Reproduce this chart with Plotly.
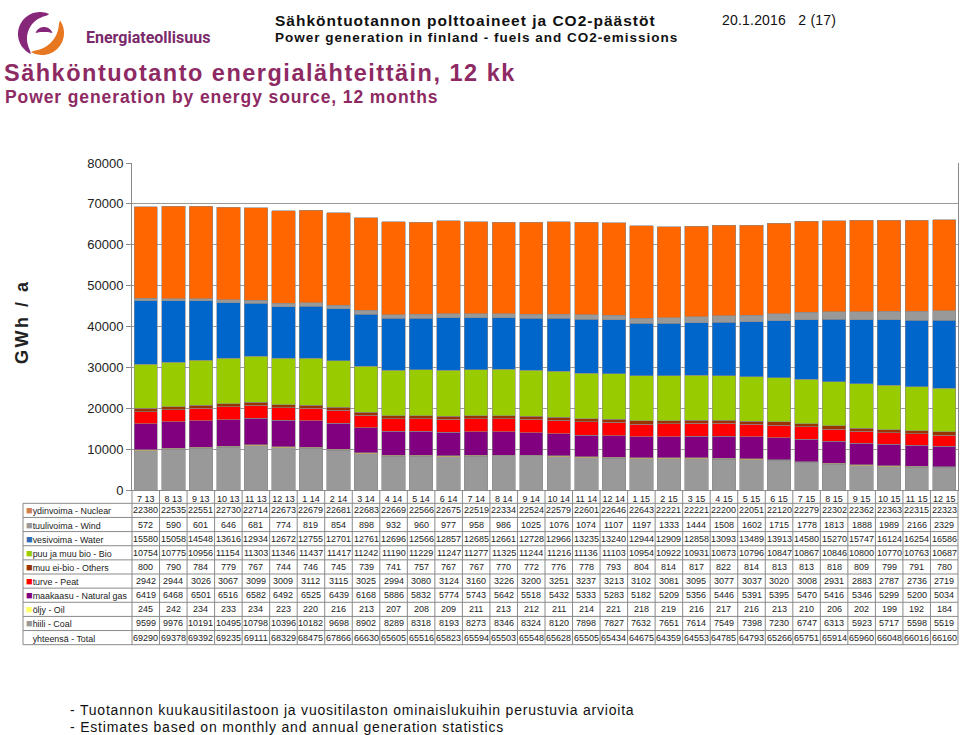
import math
import plotly.graph_objects as go

# ---------------- data ----------------
months = ["7 13", "8 13", "9 13", "10 13", "11 13", "12 13", "1 14", "2 14", "3 14", "4 14",
          "5 14", "6 14", "7 14", "8 14", "9 14", "10 14", "11 14", "12 14", "1 15", "2 15",
          "3 15", "4 15", "5 15", "6 15", "7 15", "8 15", "9 15", "10 15", "11 15", "12 15"]

nuclear = [22380, 22535, 22551, 22730, 22714, 22673, 22679, 22681, 22683, 22669, 22566, 22675, 22519, 22334, 22524,
           22579, 22601, 22646, 22643, 22221, 22221, 22200, 22051, 22120, 22279, 22302, 22362, 22363, 22315, 22323]
wind = [572, 590, 601, 646, 681, 774, 819, 854, 898, 932, 960, 977, 958, 986, 1025,
        1076, 1074, 1107, 1197, 1333, 1444, 1508, 1602, 1715, 1778, 1813, 1888, 1989, 2166, 2329]
water = [15580, 15058, 14548, 13616, 12934, 12672, 12755, 12701, 12761, 12696, 12566, 12857, 12685, 12661, 12728,
         12966, 13235, 13240, 12944, 12909, 12858, 13093, 13489, 13913, 14580, 15270, 15747, 16124, 16254, 16586]
bio = [10754, 10775, 10956, 11154, 11303, 11346, 11437, 11417, 11242, 11190, 11229, 11247, 11277, 11325, 11244,
       11216, 11136, 11103, 10954, 10922, 10931, 10873, 10796, 10847, 10867, 10846, 10800, 10770, 10763, 10687]
others = [800, 790, 784, 779, 767, 744, 746, 745, 739, 741, 757, 767, 767, 770, 772,
          776, 778, 793, 804, 814, 817, 822, 814, 813, 813, 818, 809, 799, 791, 780]
peat = [2942, 2944, 3026, 3067, 3099, 3009, 3112, 3115, 3025, 2994, 3080, 3124, 3160, 3226, 3200,
        3251, 3237, 3213, 3102, 3081, 3095, 3077, 3037, 3020, 3008, 2931, 2883, 2787, 2736, 2719]
gas = [6419, 6468, 6501, 6516, 6582, 6492, 6525, 6439, 6168, 5886, 5832, 5774, 5743, 5642, 5518,
       5432, 5333, 5283, 5182, 5209, 5356, 5446, 5391, 5395, 5470, 5416, 5346, 5299, 5200, 5034]
oil = [245, 242, 234, 233, 234, 223, 220, 216, 213, 207, 208, 209, 211, 213, 212,
       211, 214, 221, 218, 219, 216, 217, 216, 213, 210, 206, 202, 199, 192, 184]
coal = [9599, 9976, 10191, 10495, 10798, 10396, 10182, 9698, 8902, 8289, 8318, 8193, 8273, 8346, 8324,
        8120, 7898, 7827, 7632, 7651, 7614, 7549, 7398, 7230, 6747, 6313, 5923, 5717, 5598, 5519]
total = [69290, 69378, 69392, 69235, 69111, 68329, 68475, 67866, 66630, 65605, 65516, 65823, 65594, 65503, 65548,
         65628, 65505, 65434, 64675, 64359, 64553, 64785, 64793, 65266, 65751, 65914, 65960, 66048, 66016, 66160]

row_labels = ["ydinvoima - Nuclear", "tuulivoima - Wind", "vesivoima - Water", "puu ja muu bio - Bio",
              "muu ei-bio - Others", "turve - Peat", "maakaasu - Natural gas", "öljy - Oil", "hiili - Coal",
              "yhteensä - Total"]
y_ticks = [0, 10000, 20000, 30000, 40000, 50000, 60000, 70000, 80000]

# ---------------- style ----------------
colors = {"Nuclear": "#FF6600", "Wind": "#999999", "Water": "#0066CC", "Bio": "#99CC00",
          "Others": "#993300", "Peat": "#FF0000", "Gas": "#800080", "Oil": "#FFCC33", "Coal": "#999999"}
key_colors = ["#D08050", "#999999", "#2D6CB5", "#99CC00", "#993300", "#FF0000", "#800080", "#FFFF66", "#999999", None]
FONT = "Liberation Sans"
PURPLE = "#8E2A63"
W, H = 960, 735
L, R, T, B = 132, 958, 163, 490


def px(x):
    return (x - L) / (R - L)


def py(y):
    return (B - y) / (B - T)


fig = go.Figure()
stack = [("Coal", coal), ("Oil", oil), ("Gas", gas), ("Peat", peat), ("Others", others),
         ("Bio", bio), ("Water", water), ("Wind", wind), ("Nuclear", nuclear)]
for name, vals in stack:
    fig.add_trace(go.Bar(x=months, y=vals, name=name, marker_color=colors[name],
                         marker_line=dict(color="#8a8a8a", width=0.6), showlegend=False))

fig.update_layout(
    width=W, height=H, barmode="stack", bargap=0.15,
    margin=dict(l=L, r=W - R, t=T, b=H - B, pad=0),
    paper_bgcolor="white", plot_bgcolor="white",
    font=dict(family=FONT, color="#222"),
    xaxis=dict(type="category", showline=True, linecolor="#8a8a8a", linewidth=1, ticks="",
               tickfont=dict(size=9, color="#222"), showgrid=False, range=[-0.5, 29.5]),
    yaxis=dict(range=[0, 80000], tickvals=y_ticks, ticktext=[str(v) for v in y_ticks],
               showgrid=True, gridcolor="#9a9a9a", gridwidth=1, showline=True, linecolor="#8a8a8a",
               mirror=True, ticks="outside", ticklen=5, tickcolor="#8a8a8a",
               tickfont=dict(size=13, color="#222"), zeroline=False),
)

shapes = []
annotations = []
n = len(months)
row_h = 14.14
top_tab = 503.3
bottom_tab = top_tab + row_h * 10
line_style = dict(color="#8a8a8a", width=1)
# horizontal table lines
for k in range(11):
    yy = top_tab + row_h * k
    shapes.append(dict(type="line", xref="paper", yref="paper", x0=px(23), x1=1, y0=py(yy), y1=py(yy),
                       line=line_style))
# vertical line: label column left edge
shapes.append(dict(type="line", xref="paper", yref="paper", x0=px(23), x1=px(23),
                   y0=py(top_tab), y1=py(bottom_tab), line=line_style))
# vertical lines: category boundaries
for i in range(n + 1):
    shapes.append(dict(type="line", xref="paper", yref="paper", x0=i / n, x1=i / n,
                       y0=0, y1=py(bottom_tab), line=line_style))

rows = [nuclear, wind, water, bio, others, peat, gas, oil, coal, total]
for r, (lab, vals) in enumerate(zip(row_labels, rows)):
    yc = py(top_tab + row_h * (r + 0.5))
    kc = key_colors[r] if key_colors[r] else "white"
    txt = f'<span style="color:{kc};font-size:11px">■</span>{lab}'
    annotations.append(dict(xref="paper", yref="paper", x=px(24), y=yc, text=txt, showarrow=False,
                            xanchor="left", yanchor="middle",
                            font=dict(size=8.9, family=FONT, color="#222")))
    for m, v in zip(months, vals):
        annotations.append(dict(xref="x", yref="paper", x=m, y=yc, text=str(v), showarrow=False,
                                xanchor="center", yanchor="middle",
                                font=dict(size=9, family=FONT, color="#222")))

# y-axis title
annotations.append(dict(xref="paper", yref="paper", x=px(22), y=py(322),
                        text='<span style="letter-spacing:2.5px"><b>GWh / a</b></span>',
                        textangle=-90, showarrow=False, xanchor="center", yanchor="middle",
                        font=dict(size=18, family=FONT, color="#222")))


def note(x, y, text, size, color="#111", bold=False, spacing=0, family=FONT, anchor="left"):
    t = f"<b>{text}</b>" if bold else text
    if spacing:
        t = f'<span style="letter-spacing:{spacing}px">{t}</span>'
    annotations.append(dict(xref="paper", yref="paper", x=px(x), y=py(y), text=t, showarrow=False,
                            xanchor=anchor, yanchor="middle", font=dict(size=size, family=family, color=color)))


note(273, 20, "Sähköntuotannon polttoaineet ja CO2-päästöt", 15.5, "#111", True, 1.0)
note(273, 37, "Power generation in finland - fuels and CO2-emissions", 13.5, "#111", True, 1.0)
note(720, 20, "20.1.2016&nbsp;&nbsp;&nbsp;2 (17)", 14, "#111", False, 0.2)
note(2, 73, "Sähköntuotanto energialähteittäin, 12 kk", 23.5, PURPLE, True, 1.5)
note(3, 97, "Power generation by energy source, 12 months", 17.5, PURPLE, True, 0.9)
note(84, 37, "<b>Energiateollisuus</b>", 16, "#7A2A6A", False, 0, "Roboto")
note(68, 710, "- Tuotannon kuukausitilastoon ja vuositilaston ominaislukuihin perustuvia arvioita", 14, "#111", False, 0.8)
note(68, 727, "- Estimates based on monthly and annual generation statistics", 14, "#111", False, 0.8)


# logo (crescent arcs)
def crescent(cx, cy, r_out, thick, a0, a1, steps=40):
    outer, inner = [], []
    for s in range(steps + 1):
        a = a0 + (a1 - a0) * s / steps
        t = thick * (math.sin(math.pi * s / steps) ** 0.6)
        rad = math.radians(a)
        outer.append((cx + r_out * math.cos(rad), cy - r_out * math.sin(rad)))
        inner.append((cx + (r_out - t) * math.cos(rad), cy - (r_out - t) * math.sin(rad)))
    pts = outer + inner[::-1]
    return "M " + " L ".join(f"{px(x):.5f},{py(y):.5f}" for x, y in pts) + " Z"


shapes.append(dict(type="path", xref="paper", yref="paper", path=crescent(40, 34, 22, 10, 65, 245),
                   fillcolor="#86277A", line=dict(width=0)))
shapes.append(dict(type="path", xref="paper", yref="paper", path=crescent(42, 33, 22, 9, -120, 35),
                   fillcolor="#E87722", line=dict(width=0)))
shapes.append(dict(type="path", xref="paper", yref="paper", path=crescent(44, 36, 9, 5, 20, 160),
                   fillcolor="#86277A", line=dict(width=0)))

fig.update_layout(shapes=shapes, annotations=annotations)
fig.write_html("out.html", config={"displayModeBar": False},
               post_script="document.body.style.margin='0';document.body.style.overflow='hidden';")
